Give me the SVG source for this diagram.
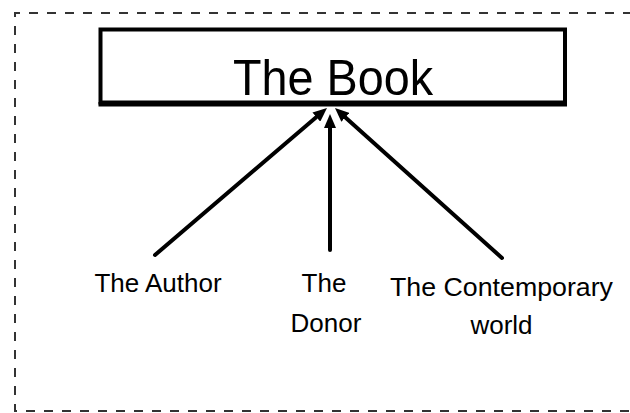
<svg xmlns="http://www.w3.org/2000/svg" width="630" height="413" viewBox="0 0 630 413">
  <defs>
    <marker id="ah" viewBox="0 0 14 12" markerWidth="14" markerHeight="12" markerUnits="userSpaceOnUse" refX="4" refY="6" orient="auto">
      <path d="M0,0 L14,6 L0,12 z" fill="#000"/>
    </marker>
  </defs>
  <style>
    .lbl { font-family: "Liberation Sans", Arial, sans-serif; font-size: 26px; fill: #000; text-anchor: middle; }
    .title { font-family: "Liberation Sans", Arial, sans-serif; font-size: 50px; fill: #000; text-anchor: middle; }
    .conn { stroke: #000; stroke-width: 4; fill: none; stroke-linecap: round; marker-end: url(#ah); }
    .frame { stroke: #333; stroke-width: 2; fill: none; stroke-dasharray: 9 9; }
  </style>
  <rect width="630" height="413" fill="#fff"/>
  <path class="frame" d="M632 13 H15 V411 H632"/>
  <g id="book">
    <rect x="100.5" y="29.5" width="464.5" height="73" fill="#fff" stroke="#000" stroke-width="4"/>
    <rect x="98.5" y="102" width="468.5" height="4.5" fill="#000"/>
    <text class="title" x="333" y="95" textLength="200" lengthAdjust="spacingAndGlyphs">The Book</text>
  </g>
  <g id="author">
    <text class="lbl" x="158" y="292">The Author</text>
  </g>
  <g id="donor">
    <text class="lbl" x="324" y="292">The</text>
    <text class="lbl" x="326" y="332">Donor</text>
  </g>
  <g id="world">
    <text class="lbl" x="501.5" y="296" textLength="223" lengthAdjust="spacingAndGlyphs">The Contemporary</text>
    <text class="lbl" x="501.5" y="334">world</text>
  </g>
  <g id="connectors">
    <line class="conn" x1="155" y1="255" x2="319.4" y2="114.5"/>
    <line class="conn" x1="330" y1="250" x2="330" y2="124"/>
    <line class="conn" x1="502" y1="258" x2="342.4" y2="114.7"/>
  </g>
</svg>
